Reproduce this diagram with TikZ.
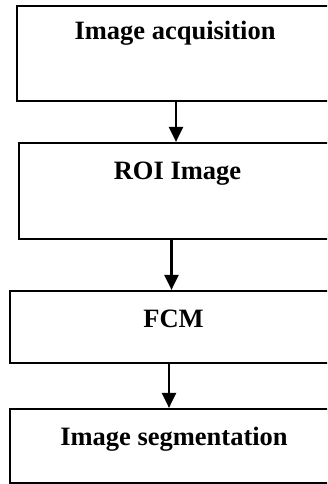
\documentclass[tikz,border=0pt]{standalone}
\usepackage{fontspec}
\setmainfont{Liberation Serif}
\usetikzlibrary{arrows.meta}
\begin{document}
\begin{tikzpicture}[x=1pt,y=-1pt,
  stagebox/.style={draw=black,line width=2.2pt,inner sep=0pt},
  stagetext/.style={anchor=base,inner sep=0pt,font=\fontsize{26.5}{30}\selectfont\bfseries},
  flowarrow/.style={line width=2.4pt,-{Triangle[width=14pt,length=15pt]}}]
\useasboundingbox (0,0) rectangle (327,484);
\clip (0,0) rectangle (327,484);
\fill[white] (0,0) rectangle (327,484);
% stage boxes (they run past the right margin)
\node[stagebox,minimum width=318pt,minimum height=95pt] (b1) at (176,53.5) {};
\node[stagebox,minimum width=317pt,minimum height=96pt] (b2) at (177.5,191) {};
\node[stagebox,minimum width=327pt,minimum height=72pt] (b3) at (173.5,327) {};
\node[stagebox,minimum width=328pt,minimum height=74pt] (b4) at (174,446) {};
% labels
\node[stagetext] (t1) at (175,39.5) {Image acquisition};
\node[stagetext] (t2) at (177.5,179) {ROI Image};
\node[stagetext] (t3) at (173.5,327) {FCM};
\node[stagetext] (t4) at (174,445) {Image segmentation};
% arrow columns
\coordinate (c1) at (176,0);
\coordinate (c2) at (171.5,0);
\coordinate (c3) at (169,0);
\draw[flowarrow] (b1.south -| c1) -- (b2.north -| c1);
\draw[flowarrow] (b2.south -| c2) -- (b3.north -| c2);
\draw[flowarrow] (b3.south -| c3) -- (b4.north -| c3);
\end{tikzpicture}
\end{document}
